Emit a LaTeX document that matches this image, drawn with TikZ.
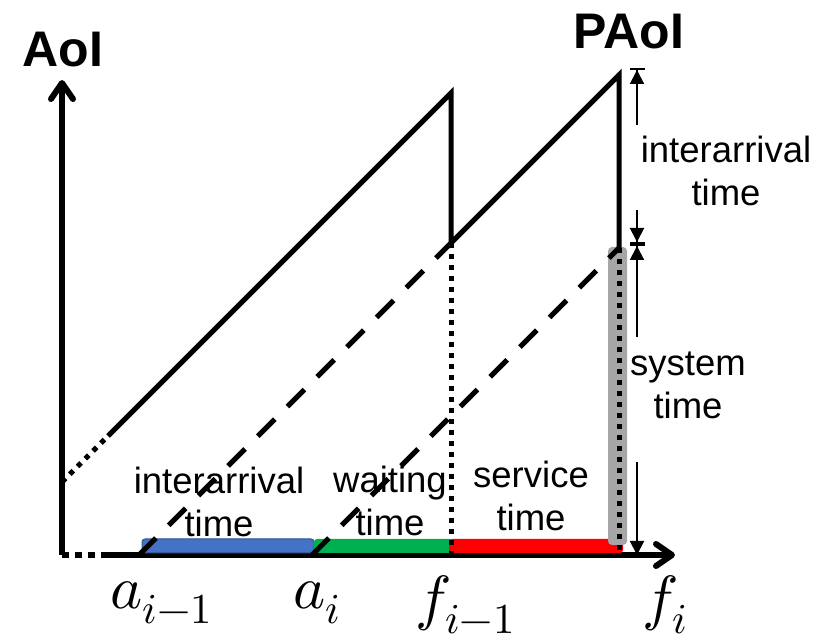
\documentclass[tikz,border=0pt]{standalone}
\usepackage{fontspec}
\usepackage{unicode-math}
\setmainfont{Liberation Sans}
\usepackage{tikz}
\usetikzlibrary{positioning,arrows.meta,calc}

\definecolor{barblue}{HTML}{4472C4}
\definecolor{barblueedge}{HTML}{2F528F}
\definecolor{bargreen}{HTML}{00B050}
\definecolor{barred}{HTML}{FF0000}
\definecolor{bandgray}{HTML}{A6A6A6}

\begin{document}
\begin{tikzpicture}[x=1pt,y=1pt,
  axis/.style={line width=6pt},
  axistip/.style={-{Straight Barb[length=16pt,width=22pt,line cap=round,line join=round]}},
  age/.style={line width=5pt},
  agedash/.style={line width=5pt,dash pattern=on 24pt off 18pt},
  agedot/.style={line width=5pt,dash pattern=on 5pt off 6pt},
  axisdot/.style={line width=6pt,dash pattern=on 7pt off 6pt},
  span/.style={rounded corners=3pt},
  dimline/.style={line width=2pt},
  lbl/.style={font=\fontsize{36.5}{43}\selectfont,align=center,inner sep=0pt},
  ttl/.style={font=\fontsize{50}{60}\selectfont\bfseries,inner sep=0pt,anchor=base},
  tick/.style={font=\fontsize{61}{64}\selectfont,inner sep=0pt,anchor=base west}]
  \useasboundingbox (-62,-87) rectangle (765,555);

  \coordinate (O) at (0,0);
  \coordinate (ytip) at (0,475);
  \coordinate (xdot) at (43,0);
  \coordinate (xtip) at (613,0);
  \coordinate (a0) at (77,0);
  \coordinate (a1) at (250,0);
  \coordinate (f0) at (389,0);
  \coordinate (f1) at (557,0);
  \coordinate (s0) at (0,73);
  \coordinate (s1) at (46,119);
  \coordinate (p0) at (389,462);
  \coordinate (d0) at (389,312);
  \coordinate (p1) at (557,480);
  \coordinate (d1) at (557,307);

  % axes
  \draw[axisdot] (O) -- (xdot);
  \draw[axis,axistip] (xdot) -- (xtip);
  \draw[axis,axistip] (O) -- (ytip);

  % intervals on the time axis
  \draw[span,fill=barblue,draw=barblueedge,line width=1pt] ($(a0)+(3,2)$) rectangle ($(a1)+(2,16)$);
  \fill[span,fill=bargreen] ($(a1)+(2,2)$) rectangle ($(f0)+(2,16)$);
  \fill[span,fill=barred] ($(f0)+(-2,2)$) rectangle ($(f1)+(4,16)$);
  \fill[bandgray,rounded corners=4pt] ($(f1)+(-11,10)$) rectangle ($(d1)+(8,1)$);

  % age curves
  \draw[agedot] (s0) -- (s1);
  \draw[age] (s1) -- (p0) -- (d0) -- (p1) -- (d1);
  \draw[agedash] (a0) -- (d0);
  \draw[agedash] (a1) -- (d1);
  \draw[agedot] (d0) -- (f0);
  \draw[agedot] (d1) -- (f1);

  % dimension arrows
  \draw[dimline,-{Triangle[length=14pt,width=14pt]Bar[width=15pt]}] (575,430) -- (575,487);
  \draw[dimline,-{Triangle[length=14pt,width=14pt]Bar[width=15pt]}] (575,345) -- (575,311);
  \draw[dimline,-{Triangle[length=14pt,width=14pt]Bar[width=15pt]}] (575,218) -- (575,311);
  \draw[dimline,-{Triangle[length=14pt,width=14pt]}] (575,93) -- (575,0);

  \node[ttl] (aoi) at (1,488) {AoI};
  \node[ttl] (paoi) at (567,506) {PAoI};
  \node[lbl] (iat) at (157,53) {interarrival\\time};
  \node[lbl] (wt) at (328,54) {waiting\\time};
  \node[lbl] (st) at (469,59) {service\\time};
  \node[lbl] (iat2) at (664,384) {interarrival\\time};
  \node[lbl] (syst) at (626,170) {system\\time};

  \node[tick] (la0) at (48,-53) {$a_{i-1}$};
  \node[tick] (la1) at (231,-53) {$a_i$};
  \node[tick] (lf0) at (353,-63) {$f_{i-1}$};
  \node[tick] (lf1) at (580,-63) {$f_i$};
\end{tikzpicture}
\end{document}
